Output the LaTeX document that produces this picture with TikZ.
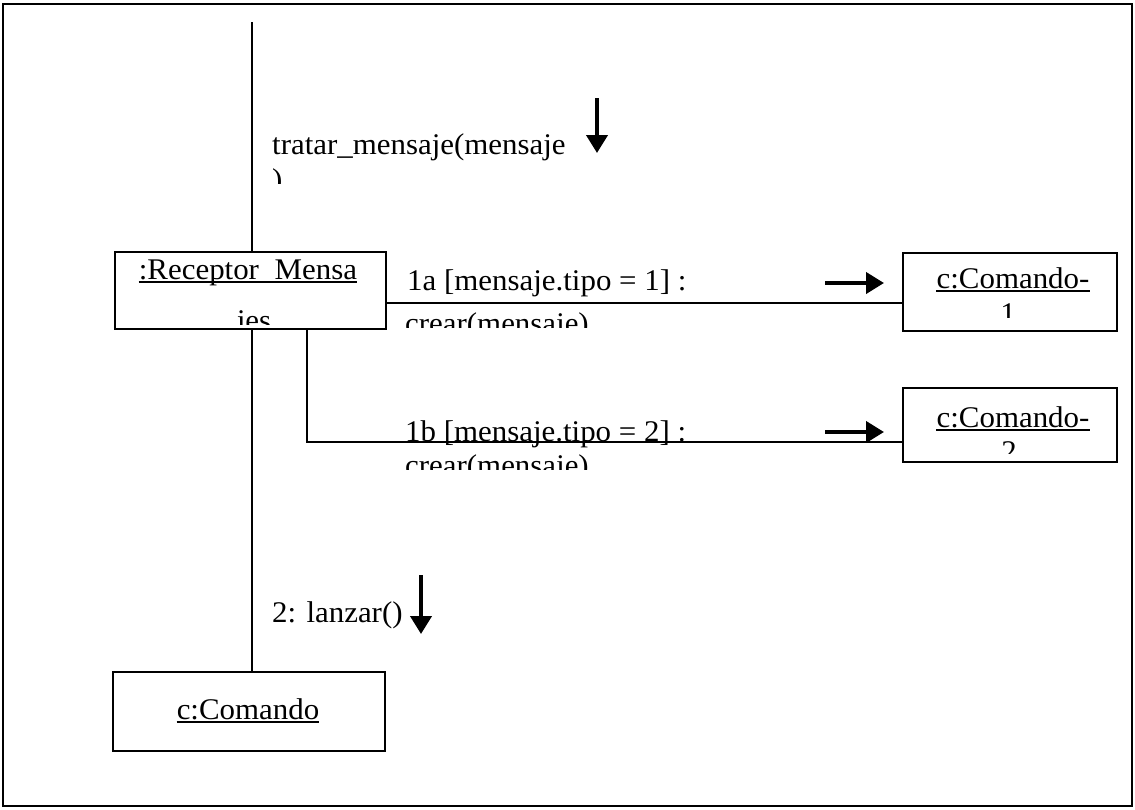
\documentclass[tikz,border=0pt]{standalone}
\usepackage{fontspec}
\setmainfont{Liberation Serif}[FakeStretch=1.03]
\usetikzlibrary{arrows.meta}

\tikzset{
  objbox/.style={draw, line width=1.6pt, inner sep=0pt},
  link/.style={line width=1.6pt},
  lbl/.style={inner sep=0pt, font=\fontsize{30}{36}\selectfont},
  uline/.style={line width=1.5pt},
  msgarrow/.style={line width=4pt, -{Triangle[length=18pt,width=21pt]}},
}

\begin{document}
\begin{tikzpicture}[x=1pt, y=-1pt]
\useasboundingbox (0,0) rectangle (1135,809);

% outer frame
\draw[line width=2pt] (3,4) rectangle (1132,806);

% object boxes
\node[objbox, minimum width=271pt, minimum height=77pt] (recv) at (250.5,290.5) {};
\node[objbox, minimum width=214pt, minimum height=78pt] (cmd1) at (1010,292) {};
\node[objbox, minimum width=214pt, minimum height=74pt] (cmd2) at (1010,425) {};
\node[objbox, minimum width=272pt, minimum height=79pt] (cmd)  at (249,711.5) {};

% helper points for the links
\coordinate (lifetop) at (252,22);
\coordinate (m1) at (0,303);
\coordinate (b2) at (307,442);

% links
\draw[link] (lifetop) -- (recv.north -| lifetop);
\draw[link] (recv.south -| lifetop) -- (cmd.north -| lifetop);
\draw[link] (recv.east |- m1) -- (cmd1.west |- m1);
\draw[link] (recv.south -| b2) -- (b2) -- (cmd2.west |- b2);

% object names (second lines cut off by the box)
\node[lbl, anchor=base] (recvname) at (248,279) {:Receptor\hspace{8pt} Mensa};
\draw[uline] ([yshift=-3pt]recvname.base west) -- ([yshift=-3pt]recvname.base east);
\begin{scope}
  \clip (120,300) rectangle (380,324);
  \node[lbl, anchor=base] (recvname2) at (254,330) {jes};
\end{scope}

\node[lbl, anchor=base] (cmd1name) at (1013,288) {c:Comando-};
\draw[uline] ([yshift=-3pt]cmd1name.base west) -- ([yshift=-3pt]cmd1name.base east);
\begin{scope}
  \clip (910,296) rectangle (1110,317);
  \node[lbl, anchor=base] (cmd1name2) at (1008,323) {1};
\end{scope}

\node[lbl, anchor=base] (cmd2name) at (1013,427) {c:Comando-};
\draw[uline] ([yshift=-3pt]cmd2name.base west) -- ([yshift=-3pt]cmd2name.base east);
\begin{scope}
  \clip (910,434) rectangle (1110,453);
  \node[lbl, anchor=base] (cmd2name2) at (1009,461) {2};
\end{scope}

\node[lbl, anchor=base] (cmdname) at (248,719) {c:Comando};
\draw[uline] ([yshift=-3pt]cmdname.base west) -- ([yshift=-3pt]cmdname.base east);

% message labels
\node[lbl, anchor=base west] (msg0) at (272,154) {tratar\_mensaje(mensaje};
\begin{scope}
  \clip (262,160) rectangle (330,183);
  \node[lbl, anchor=base west] (msg0b) at (272,189) {)};
\end{scope}

\node[lbl, anchor=base west] (msg1a) at (407,290) {1a [mensaje.tipo = 1] :};
\begin{scope}
  \clip (395,306) rectangle (720,327);
  \node[lbl, anchor=base west] (msg1ab) at (405,333) {crear(mensaje)};
\end{scope}

\node[lbl, anchor=base west] (msg1b) at (405,441) {1b [mensaje.tipo = 2] :};
\begin{scope}
  \clip (395,448) rectangle (720,469);
  \node[lbl, anchor=base west] (msg1bb) at (405,475) {crear(mensaje)};
\end{scope}

\node[lbl, anchor=base west] (msg2) at (272,622) {2: lanzar()};

% direction arrows
\coordinate (a0s) at (597,98);   \coordinate (a0e) at (597,153);
\coordinate (a1s) at (825,283);  \coordinate (a1e) at (884,283);
\coordinate (a2s) at (825,432);  \coordinate (a2e) at (884,432);
\coordinate (a3s) at (421,575);  \coordinate (a3e) at (421,634);
\draw[msgarrow] (a0s) -- (a0e);
\draw[msgarrow] (a1s) -- (a1e);
\draw[msgarrow] (a2s) -- (a2e);
\draw[msgarrow] (a3s) -- (a3e);
\end{tikzpicture}
\end{document}
